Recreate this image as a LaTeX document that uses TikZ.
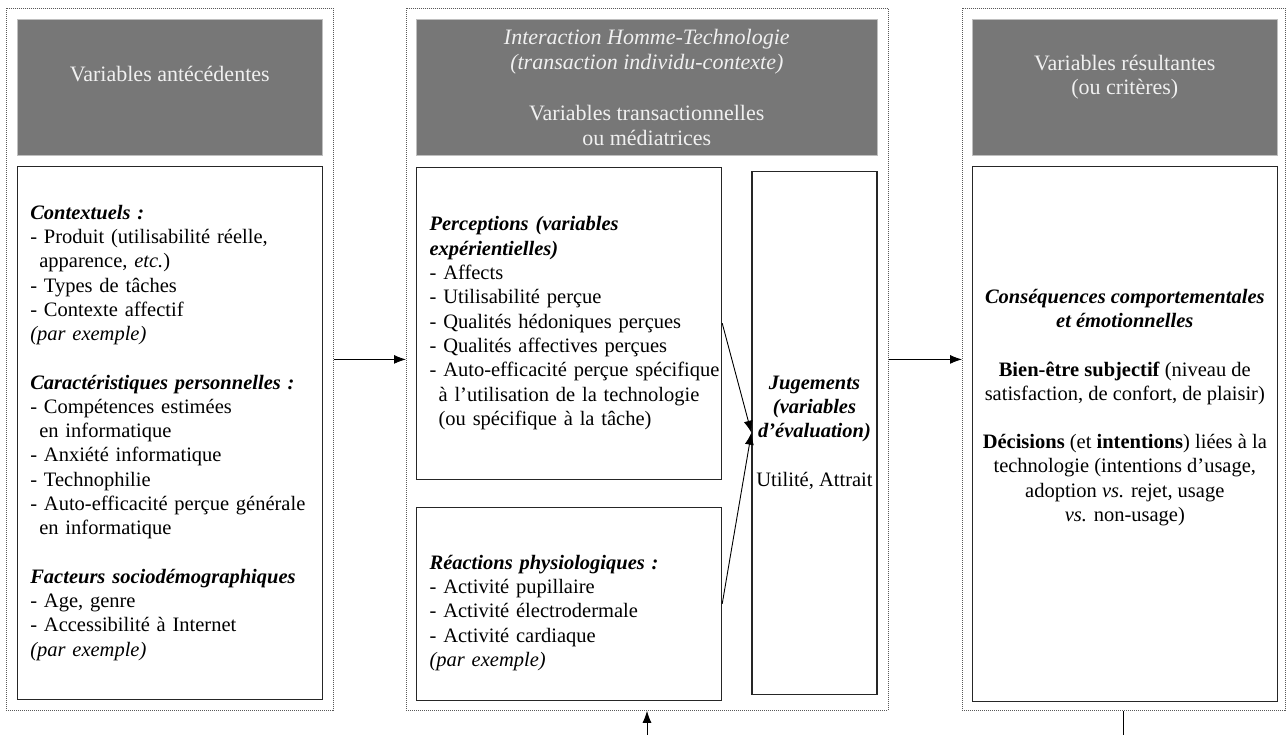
\documentclass[tikz,border=0pt]{standalone}
\usepackage{fontspec}
\setmainfont{Liberation Serif}
\usepackage{tikz}
\usetikzlibrary{arrows.meta,positioning,calc}
\definecolor{headgray}{RGB}{119,119,119}
\definecolor{headtext}{RGB}{240,240,240}
\tikzset{
  panelbox/.style={
    draw=black!65,
    line width=0.8pt,
    dash pattern=on 1pt off 1pt,
    inner sep=0pt,
    minimum height=702pt
  },
  headbox/.style={
    fill=headgray,
    draw=black!25,
    line width=0.6pt,
    text=headtext,
    align=center,
    inner sep=0pt,
    minimum height=136pt,
    font=\fontsize{22}{24.5}\selectfont
  },
  itembox/.style={
    draw=black!85,
    line width=1.2pt,
    fill=white,
    inner sep=0pt,
    font=\fontsize{20.5}{24.3}\selectfont
  },
  listbox/.style={
    itembox,
    align=left,
    text width=279pt,
    inner xsep=13pt
  },
  flowarrow/.style={
    -{Latex[length=12pt,width=9pt]},
    line width=0.9pt,
    draw=black
  }
}

\begin{document}
\begin{tikzpicture}[x=1pt, y=-1pt]
  \useasboundingbox (0,0) rectangle (1286,735);

  % three panels
  \node[panelbox, anchor=north west, minimum width=327pt] (lpanel) at (6,8) {};
  \node[panelbox, anchor=north west, minimum width=482pt] (mpanel) at (406,8) {};
  \node[panelbox, anchor=north west, minimum width=323pt] (rpanel) at (962,8) {};

  % headers
  \node[headbox, minimum width=305pt, anchor=north west] (lhead) at ($(lpanel.north west)+(11,11)$) {Variables antécédentes\\[2pt]\mbox{}};
  \node[headbox, minimum width=461pt, anchor=north west] (mhead) at ($(mpanel.north west)+(10,11)$) {\textit{Interaction Homme-Technologie}\\\textit{(transaction individu-contexte)}\\[27pt]Variables transactionnelles\\ou médiatrices};
  \node[headbox, minimum width=305pt, anchor=north west] (rhead) at ($(rpanel.north west)+(10,11)$) {Variables résultantes\\(ou critères)\\\mbox{}};

  % left column
  \node[listbox, minimum height=533pt, below=10pt of lhead] (lbox) {%
    \textbf{\textit{Contextuels :}}\\
    - Produit (utilisabilité réelle,\\
    \hspace*{9pt}apparence, \textit{etc.})\\
    - Types de tâches\\
    - Contexte affectif\\
    \textit{(par exemple)}\\[24pt]
    \mbox{\textbf{\textit{Caractéristiques personnelles :}}}\\
    - Compétences estimées\\
    \hspace*{9pt}en informatique\\
    - Anxiété informatique\\
    - Technophilie\\
    \mbox{- Auto-efficacité perçue générale}\\
    \hspace*{9pt}en informatique\\[24pt]
    \mbox{\textbf{\textit{Facteurs sociodémographiques}}}\\
    - Age, genre\\
    - Accessibilité à Internet\\
    \textit{(par exemple)}};

  % middle column
  \node[listbox, minimum height=312pt, below=11pt of mhead.south west, anchor=north west] (percbox) {%
    \textbf{\textit{Perceptions (variables}}\\
    \textbf{\textit{expérientielles)}}\\
    - Affects\\
    - Utilisabilité perçue\\
    - Qualités hédoniques perçues\\
    - Qualités affectives perçues\\
    \mbox{- Auto-efficacité perçue spécifique}\\
    \mbox{\hspace*{9pt}à l’utilisation de la technologie}\\
    \hspace*{9pt}(ou spécifique à la tâche)};
  \node[listbox, minimum height=193pt, below=27pt of percbox.south west, anchor=north west] (physbox) {%
    \mbox{}\\[8pt]
    \textbf{\textit{Réactions physiologiques :}}\\
    - Activité pupillaire\\
    - Activité électrodermale\\
    - Activité cardiaque\\
    \textit{(par exemple)}};
  \node[itembox, align=center, minimum width=125pt, minimum height=523pt, below=15pt of mhead.south east, anchor=north east] (jugbox) {%
    \textbf{\textit{Jugements}}\\
    \textbf{\textit{(variables}}\\
    \textbf{\textit{d’évaluation)}}\\[24pt]
    Utilité, Attrait};

  % right column
  \node[itembox, align=center, minimum width=305pt, minimum height=535pt, below=10pt of rhead] (rbox) {%
    \textbf{\textit{Conséquences comportementales}}\\
    \textbf{\textit{et émotionnelles}}\\[24pt]
    \textbf{Bien-être subjectif} (niveau de\\
    satisfaction, de confort, de plaisir)\\[24pt]
    \textbf{Décisions} (et \textbf{intentions}) liées à la\\
    technologie (intentions d’usage,\\
    adoption \textit{vs.} rejet, usage\\
    \textit{vs.} non-usage)\\[8pt]
    \mbox{}\\
    \mbox{}};

  % connectors
  \draw[flowarrow] (lpanel) -- (mpanel);
  \draw[flowarrow] (mpanel) -- (rpanel);
  \draw[flowarrow] (percbox.east) -- (jugbox.west);
  \draw[flowarrow] (physbox.east) -- (jugbox.west);

  % feedback loop (cut at the bottom edge)
  \coordinate (fbm) at (647,735);
  \draw[flowarrow] (fbm) -- (fbm |- mpanel.south);
  \draw[line width=0.9pt] (rpanel.south) -- (rpanel.south |- fbm);
\end{tikzpicture}
\end{document}
